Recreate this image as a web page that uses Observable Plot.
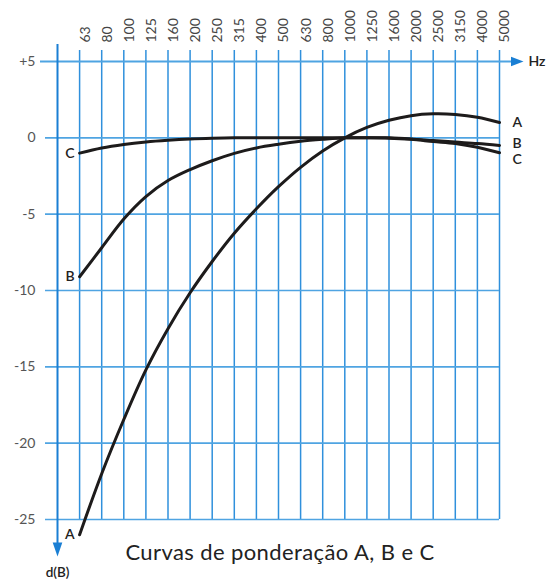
<!DOCTYPE html>
<html><head><meta charset="utf-8">
<script src="https://cdn.jsdelivr.net/npm/d3@7"></script>
<script src="https://cdn.jsdelivr.net/npm/@observablehq/plot@0.6"></script>
<style>
body{margin:0;background:#fff;}
#wrap{position:relative;width:555px;height:581px;}
#wrap svg{display:block;}
#title{position:absolute;left:0;width:560px;top:538px;text-align:center;font-family:Lato, sans-serif;font-size:22px;letter-spacing:0.4px;color:#222;}
</style></head><body>
<div id="wrap"><div id="title">Curvas de ponderação A, B e C</div></div>
<script>
const freqs = ["63","80","100","125","160","200","250","315","400","500","630","800","1000","1250","1600","2000","2500","3150","4000","5000"];
const curveA = [-26.0,-22.0,-18.45,-15.2,-12.5,-10.15,-8.1,-6.25,-4.65,-3.2,-1.93,-0.86,0,0.68,1.15,1.45,1.57,1.53,1.35,1.0];
const curveB = [-9.1,-7.2,-5.32,-3.85,-2.8,-2.08,-1.5,-1.02,-0.66,-0.42,-0.23,-0.1,0,0,0,-0.07,-0.18,-0.28,-0.37,-0.5];
const curveC = [-1.0,-0.66,-0.43,-0.27,-0.16,-0.08,-0.03,0,0,0,0,0,0,0,-0.02,-0.1,-0.24,-0.37,-0.62,-0.98];
const seriesNames = ["A","B","C"];
const yTicks = [5,0,-5,-10,-15,-20,-25];
const yLabels = ["+5","0","-5","-10","-15","-20","-25"];
const xUnit = "Hz";
const yUnit = "d(B)";

const seriesValues = {A: curveA, B: curveB, C: curveC};
const rows = seriesNames.flatMap(s => seriesValues[s].map((v, i) => ({s, i, v})));
const firsts = seriesNames.map(s => ({s, v: seriesValues[s][0]}));
const lasts = seriesNames.map(s => ({s, v: seriesValues[s][freqs.length - 1]}));
const lastDy = {A: 0, B: -2, C: 7};
const lastIdx = freqs.length - 1;

const gridBlue = "#2f90dc";
const hBlue = "#4fa4e2";
const axisBlue = "#1a7fd4";

const downArrow = {draw(ctx){ ctx.moveTo(0,0); ctx.lineTo(-4.8,-14); ctx.lineTo(4.8,-14); ctx.closePath(); }};
const rightArrow = {draw(ctx){ ctx.moveTo(0,0); ctx.lineTo(-12.5,-4.8); ctx.lineTo(-12.5,4.8); ctx.closePath(); }};

const plot = Plot.plot({
  width: 555, height: 581,
  marginLeft: 57, marginRight: 56, marginTop: 61, marginBottom: 62,
  x: {domain: [-1, lastIdx], axis: null},
  y: {domain: [-25, 5], axis: null},
  style: {fontFamily: "Lato, sans-serif", background: "transparent"},
  marks: [
    Plot.ruleX(freqs.map((f, i) => i), {x: d => d, stroke: gridBlue, strokeWidth: 1.5, insetTop: -11}),
    Plot.ruleY(yTicks.filter(v => v !== 5), {y: d => d, stroke: hBlue, strokeWidth: 1.7, insetLeft: -12}),
    Plot.ruleY(yTicks.filter(v => v === 5), {y: d => d, stroke: hBlue, strokeWidth: 2.2, insetLeft: -17, insetRight: -12}),
    Plot.ruleX([-1], {x: d => d, stroke: axisBlue, strokeWidth: 2, insetTop: -17, insetBottom: -30}),
    Plot.dot([yTicks[yTicks.length - 1]], {x: () => -1, y: d => d, dy: 37, symbol: downArrow, fill: axisBlue, stroke: null}),
    Plot.dot([yTicks[0]], {x: () => lastIdx, y: d => d, dx: 24, symbol: rightArrow, fill: axisBlue, stroke: null}),
    Plot.line(rows, {x: "i", y: "v", z: "s", stroke: "#1d1b1b", strokeWidth: 3, curve: "catmull-rom"}),
    Plot.text(freqs, {x: (d, i) => i, text: d => d, frameAnchor: "top", rotate: -90, textAnchor: "start", dy: -19, fill: "#444", fontSize: 14}),
    Plot.text(yTicks, {x: () => -1, y: d => d, text: (d, i) => yLabels[i], textAnchor: "end", dx: -22, fill: "#555", fontSize: 14}),
    Plot.text(firsts, {x: () => 0, y: "v", text: "s", textAnchor: "end", dx: -5, fill: "#222", fontSize: 14, fontWeight: 600}),
    ...seriesNames.map(s => Plot.text(lasts.filter(d => d.s === s), {x: () => lastIdx, y: "v", text: "s", textAnchor: "start", dx: 13, dy: lastDy[s], fill: "#222", fontSize: 14, fontWeight: 600})),
    Plot.text([xUnit], {x: () => lastIdx, y: () => yTicks[0], text: d => d, textAnchor: "start", dx: 29, fill: "#222", fontSize: 14, fontWeight: 600}),
    Plot.text([yUnit], {x: () => -1, y: () => yTicks[yTicks.length - 1], text: d => d, textAnchor: "middle", dy: 53, fill: "#222", fontSize: 13.5, fontWeight: 600})
  ]
});
document.getElementById("wrap").prepend(plot);
</script>
</body></html>
